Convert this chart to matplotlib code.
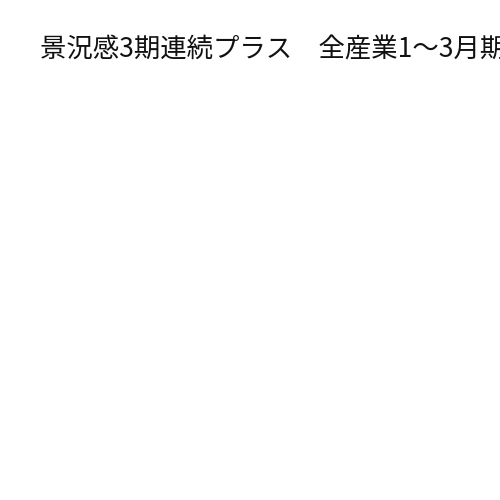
import matplotlib
matplotlib.use('Agg')
import matplotlib.pyplot as plt

plt.rcParams['font.family'] = ['Noto Sans CJK JP', 'DejaVu Sans']

title = '景況感3期連続プラス　全産業1〜3月期'

fig = plt.figure(figsize=(5, 5), dpi=100)
fig.set_facecolor('white')
fig.text(40 / 500, 1 - 50 / 500, title, fontsize=19, color='#111111',
         ha='left', va='center')

fig.savefig('out.png', dpi=100, facecolor='white')
